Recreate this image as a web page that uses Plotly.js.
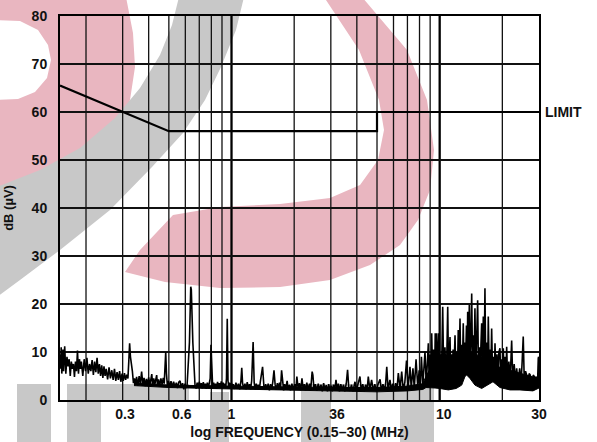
<!DOCTYPE html>
<html>
<head>
<meta charset="utf-8">
<script src="https://cdn.plot.ly/plotly-3.0.1.min.js"></script>
<style>
html,body{margin:0;padding:0;background:#fff;}
#chart{width:597px;height:442px;}
</style>
</head>
<body>
<div id="chart"></div>
<script>
// ---------------- DATA ----------------
// Limit line (dB µV vs MHz)
const limitFreq = [0.15, 0.5, 5, 5, 30];
const limitDb   = [65.5, 56, 56, 60, 60];

// Measured noise spectrum, low band (0.15–0.34 MHz)
const noiseFreqLow = [
  0.150,0.151,0.152,0.153,0.155,0.156,0.158,0.160,0.162,0.164,
  0.166,0.168,0.170,0.172,0.174,0.176,0.178,0.180,0.182,0.184,
  0.186,0.188,0.190,0.193,0.196,0.199,0.202,0.205,0.208,0.211,
  0.214,0.217,0.220,0.223,0.226,0.229,0.232,0.235,0.238,0.241,
  0.244,0.247,0.250,0.254,0.258,0.262,0.266,0.270,0.274,0.278,
  0.282,0.286,0.290,0.294,0.298,0.302,0.306,0.310,0.314,0.318,
  0.321,0.324,0.327,0.330,0.334,0.338];
const noiseDbLow = [
  9.5,6.5,11.0,5.5,10.5,6.0,11.2,5.5,9.0,7.0,
  8.5,5.0,8.0,6.5,7.5,4.8,8.0,6.0,10.3,5.5,
  8.5,6.5,8.0,5.0,8.5,6.0,8.8,5.5,7.5,6.0,
  8.3,5.2,8.0,5.8,8.8,5.5,7.5,5.0,7.2,4.6,
  7.0,5.0,6.5,4.3,6.8,4.5,6.2,4.2,6.5,4.0,
  5.8,4.2,6.0,3.8,5.5,4.0,5.6,4.2,5.3,4.5,
  8.0,11.8,9.0,8.0,6.0,3.5];

// Mid band (0.34–8.5 MHz)
const noiseFreqMid = [
  0.342,0.346,0.350,0.355,0.360,0.365,0.370,0.375,0.380,0.385,
  0.390,0.395,0.400,0.405,0.410,0.414,0.418,0.423,0.428,0.433,
  0.437,0.441,0.446,0.452,0.458,0.464,0.470,0.475,0.480,0.483,
  0.487,0.492,0.498,0.505,0.512,0.520,0.527,0.535,0.543,0.550,
  0.558,0.566,0.574,0.582,0.590,0.598,0.606,0.612,0.628,0.637,
  0.641,0.652,0.668,0.676,0.684,0.692,0.700,0.708,0.716,0.724,
  0.732,0.740,0.748,0.756,0.765,0.774,0.783,0.790,0.797,0.804,
  0.812,0.821,0.830,0.839,0.848,0.857,0.866,0.875,0.884,0.893,
  0.902,0.911,0.920,0.929,0.938,0.946,0.954,0.962,0.970,0.980,
  0.990,1.000,1.010,1.020,1.035,1.050,1.065,1.080,1.095,1.110,
  1.120,1.130,1.145,1.160,1.175,1.190,1.205,1.220,1.235,1.250,
  1.270,1.285,1.300,1.315,1.330,1.345,1.360,1.375,1.410,1.430,
  1.445,1.460,1.480,1.500,1.520,1.540,1.560,1.580,1.600,1.620,
  1.640,1.660,1.680,1.700,1.720,1.740,1.760,1.780,1.800,1.820,
  1.850,1.870,1.900,1.920,1.950,1.980,2.010,2.040,2.060,2.090,
  2.120,2.150,2.180,2.210,2.240,2.270,2.300,2.330,2.370,2.400,
  2.440,2.460,2.490,2.530,2.570,2.610,2.650,2.690,2.730,2.770,
  2.810,2.850,2.890,2.930,2.970,3.010,3.050,3.090,3.130,3.176,
  3.220,3.260,3.300,3.350,3.400,3.450,3.500,3.560,3.610,3.660,
  3.710,3.770,3.830,3.920,3.980,4.050,4.140,4.200,4.270,4.340,
  4.410,4.480,4.540,4.620,4.710,4.800,4.880,4.960,5.050,5.170,
  5.250,5.340,5.430,5.500,5.570,5.650,5.770,5.860,5.950,6.050,
  6.140,6.230,6.330,6.450,6.570,6.680,6.800,6.930,7.050,7.200,
  7.300,7.440,7.550,7.700,7.850,7.970,8.070,8.170,8.300,8.500];
const noiseDbMid = [
  4.5,3.2,4.8,3.0,5.0,3.3,5.9,3.2,4.6,2.9,
  4.4,3.1,4.7,3.0,4.2,5.4,3.0,4.5,3.2,4.6,
  5.2,3.0,4.3,2.9,4.5,3.2,4.6,3.4,6.5,10.0,
  5.5,3.0,4.0,2.7,3.9,2.6,3.8,2.7,3.6,2.5,
  3.7,4.0,2.6,3.5,2.2,3.4,2.5,3.2,12.0,23.6,
  23.0,12.0,3.0,2.4,3.6,2.5,3.8,2.6,3.5,2.4,
  3.7,2.5,3.4,2.3,3.6,2.5,3.8,4.5,11.5,4.0,
  2.6,3.6,2.4,3.4,2.3,3.8,2.5,3.5,2.6,3.9,
  2.4,3.6,2.6,3.4,2.5,4.5,16.9,4.0,2.6,3.6,
  2.4,3.5,2.4,3.3,2.3,3.6,2.5,3.4,2.2,4.0,
  6.7,3.5,2.3,3.4,2.2,3.7,2.4,3.3,2.2,4.0,
  12.1,3.6,2.2,3.4,2.3,3.2,2.1,3.8,6.9,3.0,
  2.1,3.3,2.2,3.4,2.0,3.3,2.2,3.9,6.2,3.2,
  2.1,3.5,2.2,3.6,2.4,6.2,3.0,2.0,3.3,2.2,
  4.0,2.3,3.2,2.0,3.4,2.1,3.3,2.3,4.9,2.4,
  3.5,2.0,4.5,2.2,3.3,2.0,3.6,2.2,3.4,2.0,
  5.9,5.2,2.3,3.3,1.9,3.4,2.1,3.2,1.8,3.5,
  2.2,3.1,1.8,3.3,2.0,3.0,1.8,3.2,2.0,4.2,
  2.0,3.4,1.8,3.3,2.0,3.2,1.8,3.5,6.3,2.5,
  1.9,3.2,1.8,3.8,2.0,3.2,4.9,2.0,3.3,1.8,
  3.2,2.0,4.9,2.1,4.2,1.9,3.3,1.8,3.2,4.3,
  2.0,3.3,1.9,3.4,6.9,2.2,4.2,2.0,3.4,1.9,
  3.5,2.1,5.6,2.3,5.9,2.2,3.6,8.2,2.4,6.9,
  2.5,6.6,2.4,8.5,2.6,6.2,2.8,9.0,3.0,10.1];

// High band (8.6–30 MHz)
const noiseFreqHigh = [
  8.62,8.82,8.90,9.00,9.08,9.155,9.25,9.35,9.45,9.52,
  9.60,9.67,9.75,9.89,9.97,10.1,10.2,10.34,10.45,10.6,
  10.7,10.82,10.93,11.03,11.21,11.3,11.4,11.5,11.6,11.7,
  11.85,11.95,12.08,12.18,12.28,12.4,12.52,12.62,12.75,12.86,
  12.98,13.08,13.2,13.3,13.45,13.55,13.63,13.72,13.88,14.0,
  14.12,14.25,14.38,14.5,14.62,14.77,14.9,15.05,15.22,15.35,
  15.5,15.65,15.91,16.05,16.2,16.35,16.5,16.65,16.85,17.0,
  17.12,17.3,17.5,17.6,17.77,17.95,18.15,18.3,18.44,18.64,
  18.85,19.05,19.25,19.48,19.65,19.85,20.0,20.21,20.4,20.6,
  20.8,20.98,21.2,21.5,21.8,22.17,22.45,22.8,23.1,23.43,
  23.8,24.23,24.6,24.9,25.2,25.5,25.85,26.18,26.5,26.9,
  27.24,27.6,27.9,28.16,28.47,28.8,29.2,29.5,29.76,29.9,
  30.0];
const noiseDbHigh = [
  3.2,11.8,4.0,9.5,4.0,13.9,4.5,10.5,4.5,13.9,
  5.0,13.9,5.0,13.9,5.0,9.5,5.0,19.4,5.5,11.0,
  5.5,9.0,19.4,5.5,13.1,6.0,9.5,5.5,10.5,5.5,
  13.5,6.0,10.0,6.0,14.6,6.5,17.0,6.5,11.5,6.5,
  16.0,7.0,12.0,7.0,15.5,7.5,18.4,7.0,19.8,8.0,
  12.0,22.2,7.5,13.5,7.0,19.1,7.0,12.5,20.8,6.5,
  11.0,6.5,16.0,6.0,17.4,6.5,23.3,6.0,12.0,5.5,
  17.4,5.5,10.5,5.0,14.9,5.0,9.0,5.0,11.8,5.0,
  9.5,4.5,10.0,10.8,4.5,8.5,4.5,10.8,4.5,9.0,
  4.5,11.1,4.5,8.0,4.0,12.4,4.0,7.5,4.0,6.6,
  3.8,6.6,3.5,8.0,13.2,3.5,6.0,5.2,3.2,5.5,
  5.2,3.0,5.0,5.2,4.9,3.0,4.5,3.0,8.7,9.0,
  4.0];

// Dense noise floor (lower / upper envelope of the solid band)
const floorFreq = [0.34, 0.5, 1, 2, 3, 5, 7, 8.3, 8.6, 9.0, 9.5, 10, 11, 12, 12.76, 13.23, 13.48, 13.98, 14.77, 15.91, 17, 18.03, 19.48, 21.76, 24.3, 28.06, 30];
const floorLowDb  = [3.0, 2.6, 2.3, 2.0, 1.8, 1.7, 1.9, 2.2, 2.6, 2.6, 2.5, 2.4, 2.1, 2.4, 3.1, 4.9, 5.2, 4.5, 3.1, 2.4, 3.2, 3.8, 2.6, 2.1, 2.1, 1.9, 2.5];
const floorHighDb = [3.6, 3.1, 2.9, 2.7, 2.6, 2.6, 2.9, 3.4, 5.0, 6.5, 8.0, 8.8, 9.0, 9.2, 9.6, 10.0, 10.0, 10.0, 9.6, 9.0, 8.4, 7.6, 6.8, 6.2, 5.6, 4.8, 4.8];

// Axes
const xRange = [0.15, 30];
const yRange = [0, 80];
const yTickVals = [0, 10, 20, 30, 40, 50, 60, 70, 80];
const xTickText = ['0.3', '0.6', '1', '36', '10', '30'];
const xTickPos  = [0.308, 0.577, 1, 3.21, 10.45, 30];
const gridFreqMinor = [0.2,0.3,0.4,0.5,0.6,0.7,0.8,0.9, 2,3,4,5,6,7,8,9, 20];
const gridFreqMajor = [1, 10];

// ---------------- STYLE / DECORATION ----------------
const FONT = 'Liberation Sans, Arial, Helvetica, sans-serif';
const W = 597, H = 442;
const M = {l:60, r:58, t:16, b:42};
const PW = W - M.l - M.r, PH = H - M.t - M.b;
const PINK = '#e9b6c0', GRAY = '#c8c8c8';

// background watermark, drawn as an SVG image in page pixels
const wmPinkOuter = [[-3,-3],[126,-3],[133,33],[135,67],[130,100],[118,130],[100,155],[75,175],[45,188],[-3,196]];
const wmPinkHole  = [[-3,20],[20,21],[38,30],[48,45],[51,60],[47,78],[35,92],[18,99],[-3,100]];
const wmGrayArc = [
  [244,-3],[236,30],[221,67],[205,100],[183,133],[152,167],[110,210],[60,250],[20,280],[-3,297],
  [-3,187],[40,170],[80,148],[115,118],[140,88],[160,55],[172,25],[179,-3]
];
const wmPinkCrescent = [
  [362,-3],[407,50],[427,100],[434,150],[430,190],[418,220],[400,245],[370,265],[330,280],[280,287],[220,288],[165,282],[125,272],
  [140,250],[173,215],[220,207],[280,204],[330,198],[360,185],[378,160],[384,130],[379,100],[359,50],[324,-3]
];
const wmBlocks = [
  [17,384,51,445],[67,384,101,445],[67,384,189,402],[210,392,229,445],
  [301,384,331,445],[301,384,434,400],[400,384,434,445]
];
function d(r){ return 'M' + r.map(p => p[0] + ' ' + p[1]).join(' L') + ' Z'; }
let svg = "<svg xmlns='http://www.w3.org/2000/svg' width='" + W + "' height='" + H + "' viewBox='0 0 " + W + " " + H + "'>";
svg += "<path fill-rule='evenodd' fill='" + PINK + "' d='" + d(wmPinkOuter) + " " + d(wmPinkHole) + "'/>";
svg += "<path fill='" + PINK + "' d='" + d(wmPinkCrescent) + "'/>";
svg += "<path fill='" + GRAY + "' d='" + d(wmGrayArc) + "'/>";
wmBlocks.forEach(b => { svg += "<rect fill='" + GRAY + "' x='" + b[0] + "' y='" + b[1] + "' width='" + (b[2]-b[0]) + "' height='" + (b[3]-b[1]) + "'/>"; });
svg += "</svg>";
const wmSource = 'data:image/svg+xml;charset=utf-8,' + encodeURIComponent(svg);

const shapes = [];
gridFreqMinor.forEach(f => shapes.push({type:'line', xref:'x', yref:'paper', layer:'below', x0:f, x1:f, y0:0, y1:1, line:{color:'#111', width:1.3}}));
gridFreqMajor.forEach(f => shapes.push({type:'line', xref:'x', yref:'paper', layer:'below', x0:f, x1:f, y0:0, y1:1, line:{color:'#000', width:2.3}}));

const noiseFreq = noiseFreqLow.concat(noiseFreqMid, noiseFreqHigh);
const noiseDb = noiseDbLow.concat(noiseDbMid, noiseDbHigh);

const traces = [
  {x:floorFreq, y:floorLowDb, mode:'lines', line:{width:1, color:'#000'}, hoverinfo:'skip'},
  {x:floorFreq, y:floorHighDb, mode:'lines', fill:'tonexty', fillcolor:'#000', line:{width:1, color:'#000'}, hoverinfo:'skip'},
  {x:noiseFreq, y:noiseDb, mode:'lines', line:{width:1.6, color:'#000'}},
  {x:limitFreq, y:limitDb, mode:'lines', line:{width:2.2, color:'#000'}}
];

const tf = {family:FONT, size:14, color:'#111', weight:'bold'};
const layout = {
  width:W, height:H,
  margin:M,
  paper_bgcolor:'#fff', plot_bgcolor:'rgba(0,0,0,0)',
  showlegend:false, hovermode:false,
  images:[{source:wmSource, xref:'paper', yref:'paper', x:-M.l/PW, y:1 + M.t/PH,
    sizex:W/PW, sizey:H/PH, sizing:'stretch', xanchor:'left', yanchor:'top', layer:'below'}],
  xaxis:{type:'log', range:[Math.log10(xRange[0]), Math.log10(xRange[1])],
    tickvals:xTickPos, ticktext:xTickText, showgrid:false, zeroline:false, ticks:'',
    showline:true, mirror:true, linecolor:'#000', linewidth:2,
    tickfont:tf, automargin:false,
    title:{text:'log FREQUENCY (0.15–30) (MHz)', font:tf, standoff:6}},
  yaxis:{range:yRange, tickvals:yTickVals, showgrid:true, gridcolor:'#111', gridwidth:1.3,
    zeroline:false, ticks:'', ticklabelstandoff:8, showline:true, mirror:true, linecolor:'#000', linewidth:2,
    tickfont:tf, automargin:false,
    title:{text:'dB (µV)', font:{family:FONT, size:13, color:'#111', weight:'bold'}, standoff:15}},
  shapes:shapes,
  annotations:[{xref:'paper', yref:'y', x:1, y:60, xanchor:'left', yanchor:'middle', xshift:4,
    text:'LIMIT', showarrow:false, font:tf}]
};

Plotly.newPlot('chart', traces, layout, {staticPlot:true, displayModeBar:false});
</script>
</body>
</html>
